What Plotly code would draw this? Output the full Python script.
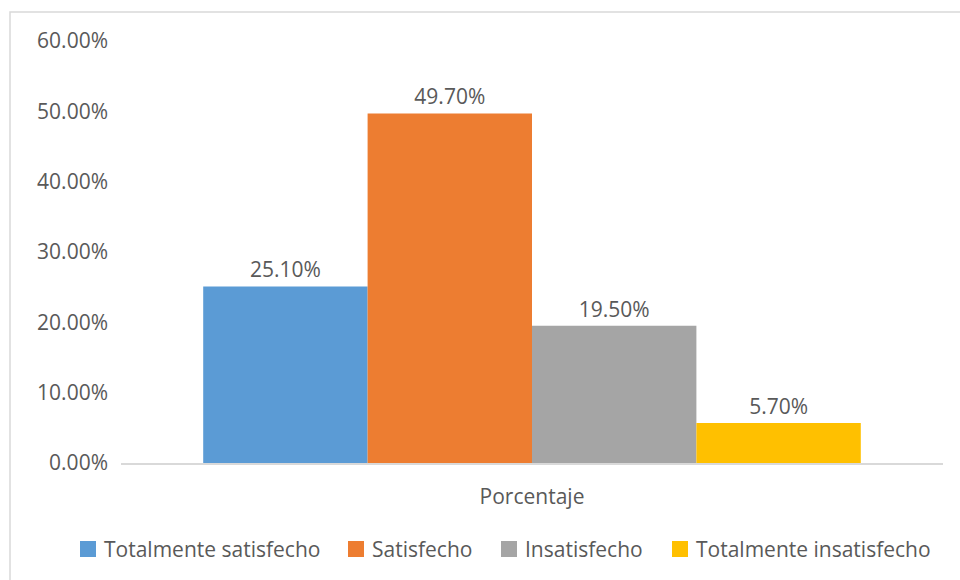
import plotly.graph_objects as go

# Survey satisfaction breakdown (share of respondents)
category = ["Porcentaje"]
series_names = ["Totalmente satisfecho", "Satisfecho", "Insatisfecho", "Totalmente insatisfecho"]
series_values = [0.251, 0.497, 0.195, 0.057]
series_colors = ["#5B9BD5", "#ED7D31", "#A5A5A5", "#FFC000"]
y_ticks = [0, 0.1, 0.2, 0.3, 0.4, 0.5, 0.6]
y_tick_labels = ["0.00%", "10.00%", "20.00%", "30.00%", "40.00%", "50.00%", "60.00%"]

W, H = 960, 580
M_L, M_R, M_T, M_B = 121, 17, 41, 117
plot_w = W - M_L - M_R
plot_h = H - M_T - M_B

TEXT = "#595959"
FONT = "Open Sans"
FS = 21

# legend layout: left edge of each swatch (px), swatch size, row centre
LEGEND_SWATCH_X = [80, 348, 501, 672]
LEGEND_SWATCH = 16
LEGEND_Y = 549

fig = go.Figure()
for name, val, color in zip(series_names, series_values, series_colors):
    fig.add_trace(go.Bar(
        name=name,
        x=category,
        y=[val],
        marker=dict(color=color, line=dict(width=0)),
        text=[f"{val * 100:.2f}%"],
        textposition="outside",
        textfont=dict(family=FONT, size=FS, color=TEXT),
        cliponaxis=False,
    ))


def px_to_paper_x(px):
    return (px - M_L) / plot_w


def px_to_paper_y(py):
    return (H - M_B - py) / plot_h


# chart frame (light border around the chart area)
fig.add_shape(
    type="rect", xref="paper", yref="paper",
    x0=px_to_paper_x(10), x1=px_to_paper_x(W + 20),
    y0=px_to_paper_y(H + 20), y1=px_to_paper_y(12),
    line=dict(color="#D9D9D9", width=1.5),
    fillcolor="rgba(0,0,0,0)", layer="below",
)

# legend below the axis: coloured swatch followed by the series name
for name, color, sx in zip(series_names, series_colors, LEGEND_SWATCH_X):
    fig.add_shape(
        type="rect", xref="paper", yref="paper",
        x0=px_to_paper_x(sx), x1=px_to_paper_x(sx + LEGEND_SWATCH),
        y0=px_to_paper_y(LEGEND_Y + LEGEND_SWATCH / 2),
        y1=px_to_paper_y(LEGEND_Y - LEGEND_SWATCH / 2),
        line=dict(width=0), fillcolor=color,
    )
    fig.add_annotation(
        xref="paper", yref="paper",
        x=px_to_paper_x(sx + LEGEND_SWATCH + 6), y=px_to_paper_y(LEGEND_Y),
        xanchor="left", yanchor="middle",
        text=name, showarrow=False,
        font=dict(family=FONT, size=FS, color=TEXT),
    )

fig.update_layout(
    width=W, height=H,
    margin=dict(l=M_L, r=M_R, t=M_T, b=M_B, pad=0),
    paper_bgcolor="white", plot_bgcolor="white",
    barmode="group", bargap=0.2, bargroupgap=0,
    font=dict(family=FONT, size=FS, color=TEXT),
    showlegend=False,
    xaxis=dict(
        type="category",
        showgrid=False, zeroline=False,
        showline=True, linecolor="#D9D9D9", linewidth=1.5,
        ticks="", ticklabelstandoff=14,
        tickfont=dict(family=FONT, size=FS, color=TEXT),
    ),
    yaxis=dict(
        range=[0, 0.6],
        tickvals=y_ticks, ticktext=y_tick_labels,
        showgrid=False, zeroline=False, showline=False,
        ticks="", ticklabelstandoff=12,
        tickfont=dict(family=FONT, size=FS, color=TEXT),
    ),
)

fig.write_html("out.html")
